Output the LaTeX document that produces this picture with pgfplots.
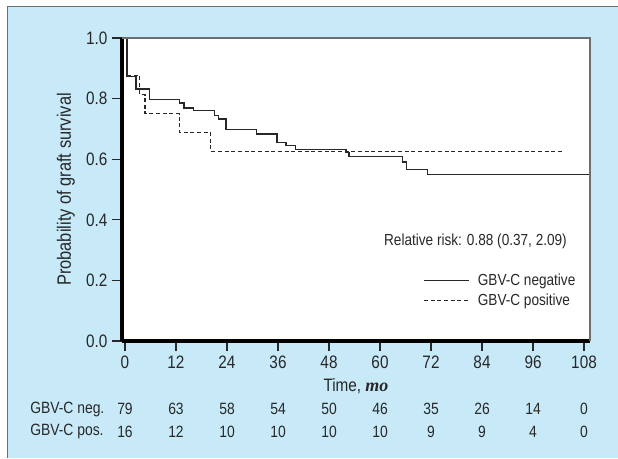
\documentclass[border=0pt]{standalone}
\usepackage{fontspec}
\setmainfont{Liberation Sans}[FakeStretch=0.85]
\newfontfamily\bisf{Liberation Serif}
\usepackage{pgfplots}
\pgfplotsset{compat=1.18}
\definecolor{panel}{RGB}{199,233,248}
\definecolor{txt}{RGB}{40,40,40}
\definecolor{frame}{RGB}{110,110,110}
\begin{document}
\begin{tikzpicture}[x=1pt,y=1pt]
\useasboundingbox (0,0) rectangle (463.5,-343.5);
\fill[white] (0,0) rectangle (463.5,-343.5);
\fill[panel] (5.25,-4.5) rectangle (463.5,-343.5);
\draw[frame, line width=1.3pt] (5.6,-343.5) -- (5.6,-4.9) -- (463.5,-4.9);
\begin{axis}[
  at={(91.5pt,-255.75pt)}, anchor=south west,
  scale only axis, width=351pt, height=227.25pt,
  xmin=-0.706, xmax=109.41, ymin=0, ymax=1,
  axis x line*=bottom, axis y line*=left,
  axis line style={line width=3pt, black},
  axis background/.style={fill=white},
  clip=false,
  xtick={0,12,24,36,48,60,72,84,96,108},
  ytick={0,0.2,0.4,0.6,0.8,1},
  yticklabel style={/pgf/number format/.cd, fixed, fixed zerofill, precision=1},
  /pgf/number format/assume math mode=true,
  tick align=outside, major tick length=7.5pt,
  tick style={line width=0.8pt, txt},
  ticklabel style={font=\fontsize{13.5}{15}\selectfont, text=txt},
  ylabel={Probability of graft survival},
  ylabel style={at={(rel axis cs:-0.1197,0.5)}, anchor=center, font=\fontsize{14.5}{16}\selectfont, text=txt},
  xlabel={Time, {\bisf\bfseries\itshape mo}},
  xlabel style={at={(rel axis cs:0.5,-0.1485)}, anchor=center, font=\fontsize{13.5}{15}\selectfont, text=txt},
  legend style={draw=none, fill=none, at={(rel axis cs:0.975,0.232)}, anchor=north east,
    font=\fontsize{12}{13}\selectfont, text=txt, inner sep=0pt, row sep=1pt},
  legend cell align=left,
  legend image code/.code={\draw[#1] (0pt,0pt) -- (34pt,0pt); \path (38pt,0pt);},
]
\addplot[const plot, txt, line width=1pt] coordinates {
(0,1) (0.5,0.873) (2.6,0.832) (5.7,0.796) (12.9,0.785) (13.9,0.769) (16.1,0.761)
(21.0,0.744) (22.0,0.733) (23.8,0.697) (31.0,0.683) (35.8,0.655) (37.9,0.645)
(40.1,0.631) (52.0,0.623) (52.7,0.608) (65.3,0.591) (66.3,0.565) (71.1,0.550) (109.41,0.550)};
\addlegendentry{GBV-C negative}
\addplot[const plot, txt, line width=0.9pt, dash pattern=on 3pt off 2pt] coordinates {
(0,1) (0.6,0.875) (3.5,0.8125) (4.7,0.75) (12.9,0.6875) (20.2,0.625) (103.3,0.625)};
\addlegendentry{GBV-C positive}
\draw[frame, line width=1pt] (rel axis cs:0,1) -- (rel axis cs:1,1) -- (rel axis cs:1,0);
\node[anchor=east, inner sep=0pt, text=txt, font=\fontsize{12}{13}\selectfont] at (rel axis cs:0.951,0.330) {Relative risk: 0.88 (0.37, 2.09)};
% number at risk
\begin{scope}[every node/.style={text=txt, font=\fontsize{12.25}{13}\selectfont}]
\node[anchor=west, inner sep=0pt] at (axis cs:-22.35,-0.2255) {GBV-C neg.};
\node[anchor=west, inner sep=0pt] at (axis cs:-22.35,-0.2987) {GBV-C pos.};
\node at (axis cs:0,-0.2255) {79};
\node at (axis cs:12,-0.2255) {63};
\node at (axis cs:24,-0.2255) {58};
\node at (axis cs:36,-0.2255) {54};
\node at (axis cs:48,-0.2255) {50};
\node at (axis cs:60,-0.2255) {46};
\node at (axis cs:72,-0.2255) {35};
\node at (axis cs:84,-0.2255) {26};
\node at (axis cs:96,-0.2255) {14};
\node at (axis cs:108,-0.2255) {0};
\node at (axis cs:0,-0.2987) {16};
\node at (axis cs:12,-0.2987) {12};
\node at (axis cs:24,-0.2987) {10};
\node at (axis cs:36,-0.2987) {10};
\node at (axis cs:48,-0.2987) {10};
\node at (axis cs:60,-0.2987) {10};
\node at (axis cs:72,-0.2987) {9};
\node at (axis cs:84,-0.2987) {9};
\node at (axis cs:96,-0.2987) {4};
\node at (axis cs:108,-0.2987) {0};
\end{scope}
\end{axis}
\end{tikzpicture}
\end{document}
